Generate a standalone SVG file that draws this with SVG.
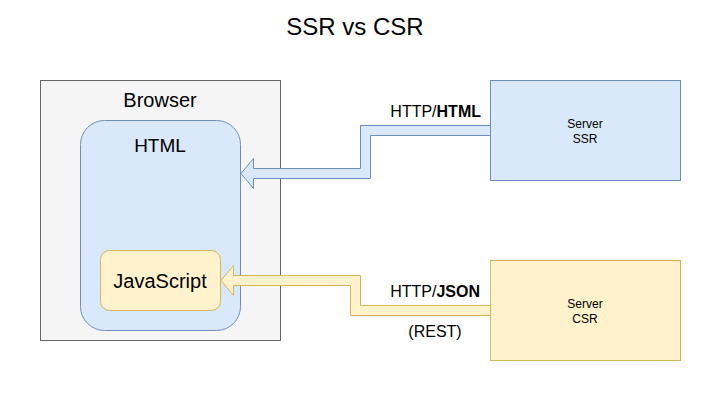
<svg xmlns="http://www.w3.org/2000/svg" width="711" height="401" viewBox="0 0 711 401">
<style>
text{font-family:"Liberation Sans",Arial,sans-serif;fill:#000}
.blue{fill:#dae8fc;stroke:#6c8ebf;stroke-width:1}
.yellow{fill:#fff2cc;stroke:#d6b656;stroke-width:1}
.c{text-anchor:middle}
</style>
<rect width="711" height="401" fill="#fff"/>
<text class="c" x="355" y="35" font-size="24">SSR vs CSR</text>
<g id="browser">
<rect x="40.5" y="80.5" width="240" height="260" fill="#f5f5f5" stroke="#666"/>
<text class="c" x="160" y="107" font-size="20">Browser</text>
</g>
<g id="html">
<rect class="blue" x="80.5" y="120.5" width="160" height="210" rx="24" ry="24"/>
<text class="c" x="160" y="152" font-size="19">HTML</text>
</g>
<g id="javascript">
<rect class="yellow" x="100.5" y="250.5" width="120" height="60" rx="9" ry="9"/>
<text class="c" x="160" y="288" font-size="20">JavaScript</text>
</g>
<g id="server-ssr">
<rect class="blue" x="490.5" y="80.5" width="190" height="100"/>
<text class="c" x="585" y="127.5" font-size="12">Server</text>
<text class="c" x="585" y="142.5" font-size="12">SSR</text>
</g>
<g id="server-csr">
<rect class="yellow" x="490.5" y="260.5" width="190" height="100"/>
<text class="c" x="585" y="307.5" font-size="12">Server</text>
<text class="c" x="585" y="322.5" font-size="12">CSR</text>
</g>
<g id="connectors">
<path class="blue" d="M490.5,125.5 L360.5,125.5 L360.5,168.5 L253.5,168.5 L253.5,158.5 L241,173.5 L253.5,188.5 L253.5,178.5 L370.5,178.5 L370.5,135.5 L490.5,135.5 Z"/>
<path class="yellow" d="M490.5,305.5 L360.5,305.5 L360.5,275.5 L233.5,275.5 L233.5,265.5 L221,280.5 L233.5,295.5 L233.5,285.5 L350.5,285.5 L350.5,315.5 L490.5,315.5 Z"/>
<text x="481" y="117" font-size="16" text-anchor="end">HTTP/<tspan font-weight="bold">HTML</tspan></text>
<text x="480" y="297" font-size="16" text-anchor="end">HTTP/<tspan font-weight="bold">JSON</tspan></text>
<text class="c" x="435" y="337" font-size="16">(REST)</text>
</g>
</svg>
